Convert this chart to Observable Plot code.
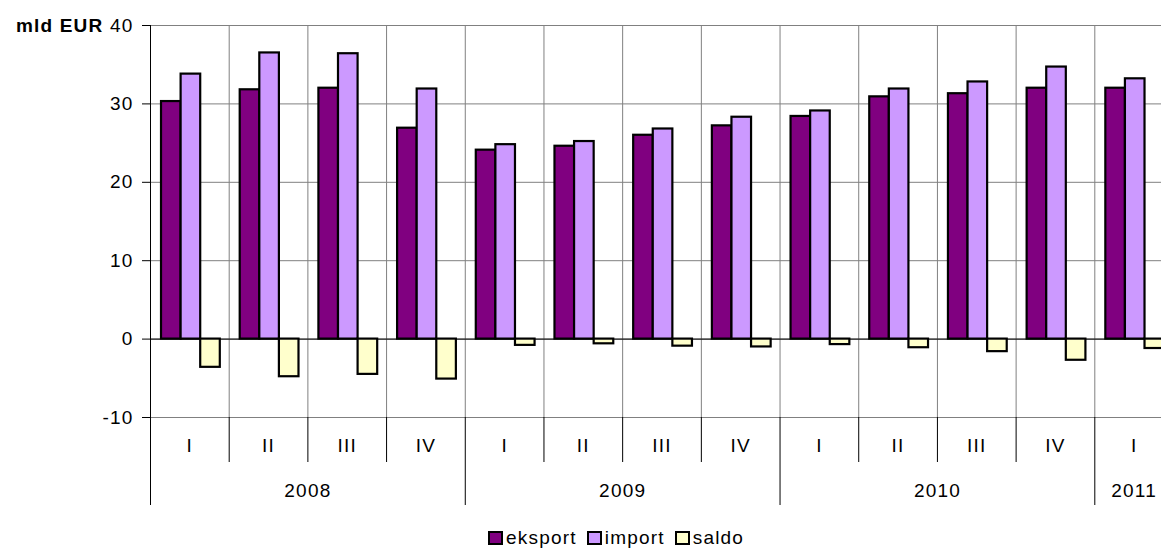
<!DOCTYPE html>
<html><head><meta charset="utf-8">
<script src="https://cdn.jsdelivr.net/npm/d3@7"></script>
<script src="https://cdn.jsdelivr.net/npm/@observablehq/plot@0.6"></script>
<style>
html,body{margin:0;padding:0;overflow:hidden;background:#fff;width:1161px;height:548px}
#wrap{position:relative;width:1161px;height:548px;overflow:hidden}
#legend{position:absolute;left:488px;top:530px;display:flex;align-items:center;font:19px "Liberation Sans",Arial,sans-serif;letter-spacing:1.2px;color:#000;line-height:16px}
.item{display:flex;align-items:center;margin-right:10px}
.sw{width:15px;height:14px;box-sizing:border-box;border:2px solid #000;margin-right:3px}
</style></head><body><div id="wrap"><div id="chart"></div><div id="legend"></div></div>
<script>
const years    = ["2008","2008","2008","2008","2009","2009","2009","2009","2010","2010","2010","2010","2011"];
const quarters = ["I","II","III","IV","I","II","III","IV","I","II","III","IV","I"];
const seriesNames = ["eksport","import","saldo"];
const seriesColors = ["#800080","#CC99FF","#FFFFCC"];
const eksport = [30.3,31.8,32.0,26.9,24.1,24.6,26.0,27.2,28.4,30.9,31.3,32.0,32.0];
const importv = [33.8,36.5,36.4,31.9,24.8,25.2,26.8,28.3,29.1,31.9,32.8,34.7,33.2];
const saldo   = [-3.6,-4.8,-4.5,-5.1,-0.8,-0.6,-0.9,-1.0,-0.7,-1.1,-1.6,-2.7,-1.2];
const yTicks  = [-10,0,10,20,30,40];
const yAxisLabel = "mld EUR";

const values = [eksport, importv, saldo];
const n = quarters.length;
const gapLeft = 0.14, barW = 0.249;

const rows = [];
for (let i = 0; i < n; i++) {
  seriesNames.forEach((s, k) => rows.push({i, k, s, v: values[k][i]}));
}
// year spans
const yearInfo = [];
years.forEach((y, i) => {
  const last = yearInfo[yearInfo.length - 1];
  if (!last || last.y !== y) yearInfo.push({y, start: i, end: i + 1});
  else last.end = i + 1;
});
yearInfo.forEach(d => d.c = (d.start + d.end) / 2);
const yearBounds = yearInfo.map(d => d.start).filter(i => i > 0);
const quarterBounds = d3.range(1, n).filter(i => !yearBounds.includes(i));

const font = '"Liberation Sans", Arial, sans-serif';
const chart = Plot.plot({
  width: 1173, height: 515,
  marginLeft: 150, marginRight: 0, marginTop: 25, marginBottom: 98,
  x: {domain: [0, n], axis: null},
  y: {domain: [yTicks[0], yTicks[yTicks.length - 1]], axis: null, label: null},
  style: {fontFamily: font, fontSize: "19px", letterSpacing: "1.2px", maxWidth: "none", color: "#000", background: "#fff", overflow: "visible"},
  marks: [
    Plot.ruleY(yTicks, {stroke: "#808080", strokeOpacity: 1}),
    Plot.ruleX(d3.range(1, n + 1), {stroke: "#808080", strokeOpacity: 1}),
    Plot.ruleX(quarterBounds, {x: d => d, y1: yTicks[0], y2: yTicks[0], insetBottom: -45, stroke: "#000"}),
    Plot.ruleX(yearBounds, {x: d => d, y1: yTicks[0], y2: yTicks[0], insetBottom: -88, stroke: "#000"}),
    Plot.ruleX([0], {stroke: "#000", insetBottom: -88}),
    Plot.ruleY([0], {stroke: "#000", strokeOpacity: 1}),
    Plot.rect(rows, {
      x1: d => d.i + gapLeft + d.k * barW,
      x2: d => d.i + gapLeft + (d.k + 1) * barW,
      y1: 0, y2: "v",
      fill: d => seriesColors[d.k],
      stroke: "#000", strokeWidth: 2.2
    }),
    Plot.axisY(yTicks, {label: null, tickSize: 8, tickPadding: 9, stroke: "#000", fill: "#000", tickFormat: d => String(d)}),
    Plot.text(quarters, {x: (d, i) => i + 0.5, text: d => d, frameAnchor: "bottom", dy: 34, fill: "#000"}),
    Plot.text(yearInfo, {x: "c", text: "y", frameAnchor: "bottom", dy: 79, fill: "#000"})
  ]
});
document.getElementById("chart").appendChild(chart);

// bold axis title on the top tick label line
d3.select(chart).selectAll('g[aria-label="y-axis tick label"] text')
  .filter(function() { return this.textContent === String(yTicks[yTicks.length - 1]); })
  .each(function() {
    const t = d3.select(this);
    const val = this.textContent;
    t.text(null);
    t.append("tspan").attr("font-weight", "bold").text(yAxisLabel + " ");
    t.append("tspan").text(val);
  });

// legend
const lg = d3.select("#legend");
seriesNames.forEach((s, k) => {
  const it = lg.append("div").attr("class", "item");
  it.append("div").attr("class", "sw").style("background", seriesColors[k]);
  it.append("span").text(s);
});
</script></body></html>
